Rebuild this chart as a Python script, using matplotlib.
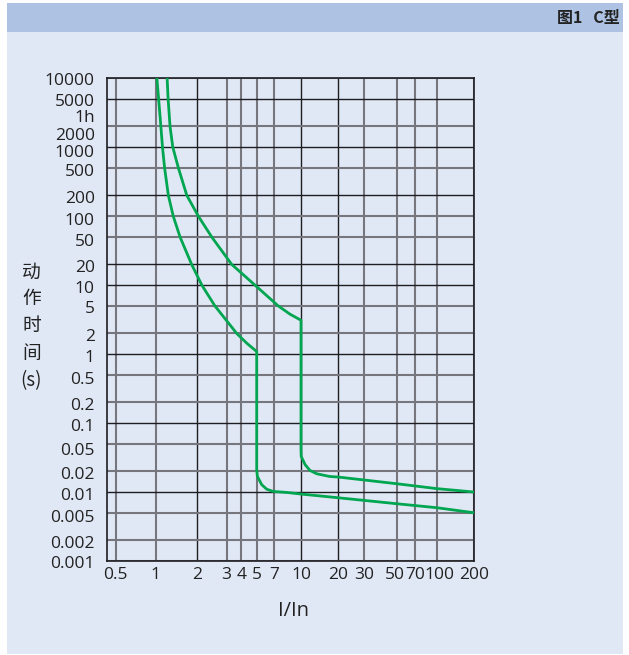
import numpy as np
import matplotlib
matplotlib.use("Agg")
import matplotlib.pyplot as plt
from matplotlib.patches import Rectangle
from matplotlib.transforms import ScaledTranslation

plt.rcParams['font.family'] = ['Open Sans', 'Noto Sans CJK SC', 'DejaVu Sans']

# ---------------- data ----------------
x_ticks = [0.5, 1, 2, 3, 4, 5, 7, 10, 20, 30, 50, 70, 100, 200]
x_tick_labels = ['0.5', '1', '2', '3', '4', '5', '7', '10', '20', '30', '50', '70', '100', '200']
y_ticks = [0.001, 0.002, 0.005, 0.01, 0.02, 0.05, 0.1, 0.2, 0.5, 1, 2, 5,
           10, 20, 50, 100, 200, 500, 1000, 2000, 5000, 10000]
y_tick_labels = ['0.001', '0.002', '0.005', '0.01', '0.02', '0.05', '0.1', '0.2', '0.5',
                 '1', '2', '5', '10', '20', '50', '100', '200', '500', '1000', '2000',
                 '5000', '10000']
hour_tick = 3600
hour_label = '1h'

# lower (left) tripping curve: current multiple I/In, time t (s)
left_I = [1.02, 1.05, 1.09, 1.12, 1.16, 1.235, 1.34, 1.50, 1.82, 2.13, 2.55, 3.65, 4.33,
          5.0, 5.0, 5.07, 5.5, 6.05, 6.87, 8.26, 10, 20, 50, 100, 200]
left_t = [10000, 5000, 2000, 1000, 500, 200, 100, 50, 20, 10, 5, 2, 1.44,
          1.09, 0.021, 0.0168, 0.0128, 0.011, 0.0102, 0.00987, 0.00935, 0.00826,
          0.00677, 0.00592, 0.005]

# upper (right) tripping curve
right_I = [1.21, 1.23, 1.27, 1.33, 1.46, 1.68, 2.03, 2.44, 3.31, 4.88, 7.38, 8.63,
           10, 10, 10.04, 10.8, 11.8, 13.4, 17.1, 20, 50, 100, 200]
right_t = [10000, 5000, 2000, 1000, 500, 200, 100, 50, 20, 10, 5, 3.8,
           3.1, 0.041, 0.0328, 0.0249, 0.0206, 0.0184, 0.0168, 0.0165, 0.0132, 0.0112, 0.01]

x_limits = (0.43, 200)
y_limits = (0.001, 10000)

# ---------------- style ----------------
W, H = 629, 655
BODY = '#e1e8f5'
HEAD = '#aec3e4'
GREEN = '#00a650'
DARK = '#1e1e22'
GRAY = '#76767e'

# scale anchors of the (hand-drawn, slightly warped) logarithmic x axis: value -> pixel
X_ANCHOR_VAL = [0.43, 0.5, 1, 2, 3, 4, 5, 7, 10, 20, 30, 50, 70, 100, 200]
X_ANCHOR_PIX = [107.3, 115.7, 155.7, 197.3, 226.7, 241.3, 256.7, 274.3, 301, 338.3,
                364.3, 396.7, 415, 437, 474.3]
_lv = np.log10(X_ANCHOR_VAL)
_pv = np.array(X_ANCHOR_PIX)


def xfwd(x):
    x = np.asarray(x, dtype=float)
    return np.interp(np.log10(np.clip(x, 1e-9, None)), _lv, _pv, left=_pv[0] - 1000, right=_pv[-1] + 1000)


def xinv(p):
    p = np.asarray(p, dtype=float)
    return 10 ** np.interp(p, _pv, _lv)


dark_x = {2, 10, 20}
dark_y = {0.01, 0.1, 1, 10, 20, 200, 1000, 5000}

fig = plt.figure(figsize=(W / 100, H / 100), dpi=100)
fig.patch.set_facecolor('white')

# panel and header
fig.patches.append(Rectangle((7 / W, 1 / H), 616 / W, 651 / H, transform=fig.transFigure,
                             facecolor=BODY, edgecolor='none', zorder=-10))
fig.patches.append(Rectangle((7 / W, (H - 32) / H), 616 / W, 29 / H, transform=fig.transFigure,
                             facecolor=HEAD, edgecolor='none', zorder=-9))
fig.text(620 / W, 1 - 18.5 / H, '图1   C型', ha='right', va='center', fontsize=11.5,
         fontweight='bold', color='#222222', family=['Noto Sans CJK SC', 'DejaVu Sans'])

ax_l, ax_r, ax_t, ax_b = 107.3, 474.3, 78.3, 561
ax = fig.add_axes([ax_l / W, (H - ax_b) / H, (ax_r - ax_l) / W, (ax_b - ax_t) / H])
ax.set_zorder(1)
ax.patch.set_alpha(0)
ax.set_xscale('function', functions=(xfwd, xinv))
ax.set_yscale('log')
ax.set_xlim(*x_limits)
ax.set_ylim(*y_limits)

# grid
for v in x_ticks:
    d = v in dark_x
    ax.axvline(v, color=DARK if d else GRAY, lw=1.0 if d else 1.5, zorder=1)
for v in y_ticks:
    d = v in dark_y
    ax.axhline(v, color=DARK if d else GRAY, lw=1.0 if d else 1.5, zorder=1)

# curves
ax.plot(left_I, left_t, color=GREEN, lw=2.0, solid_joinstyle='round', zorder=3)
ax.plot(right_I, right_t, color=GREEN, lw=2.0, solid_joinstyle='round', zorder=3)

# ticks
ax.set_xticks(x_ticks)
ax.set_xticklabels(x_tick_labels)
ax.set_xticks([], minor=True)
ax.set_yticks(y_ticks)
ax.set_yticklabels(y_tick_labels)
ax.set_yticks([hour_tick], minor=True)
ax.set_yticklabels([hour_label], minor=True)
ax.tick_params(axis='both', which='both', length=0, labelsize=12.5, colors='#222222')
ax.tick_params(axis='y', which='both', pad=9)
ax.tick_params(axis='x', pad=4)

# nudge the crowded labels like in the reference
shift = {'10000': 0.5, '5000': 0.5, '2000': 8, '1000': 4, '0.05': 5, '0.5': 3,
         '0.005': 3, '100': 3, '50': 3}
for lab in ax.get_yticklabels():
    dy = shift.get(lab.get_text(), 1.5)
    lab.set_transform(lab.get_transform() + ScaledTranslation(0, -dy / 100, fig.dpi_scale_trans))
for lab in ax.get_yticklabels(minor=True):
    lab.set_transform(lab.get_transform() + ScaledTranslation(0, -7.5 / 100, fig.dpi_scale_trans))
xshift = {'50': -1.5, '100': 2, '3': -1, '4': 0.5}
for lab in ax.get_xticklabels():
    dx = xshift.get(lab.get_text(), 0)
    lab.set_transform(lab.get_transform() + ScaledTranslation(dx / 100, 0, fig.dpi_scale_trans))

for s in ax.spines.values():
    s.set_color(DARK)
    s.set_linewidth(1.2)
    s.set_zorder(2)

fig.text(31.5 / W, 1 - 326 / H, '动\n作\n时\n间\n(s)', ha='center', va='center',
         fontsize=13.5, linespacing=1.38, color='#222222',
         family=['Noto Sans CJK SC', 'DejaVu Sans'])
fig.text(293 / W, 1 - 611 / H, 'I/In', ha='center', va='center', fontsize=14.5, color='#222222')

fig.savefig('out.png', dpi=100, facecolor='white')
